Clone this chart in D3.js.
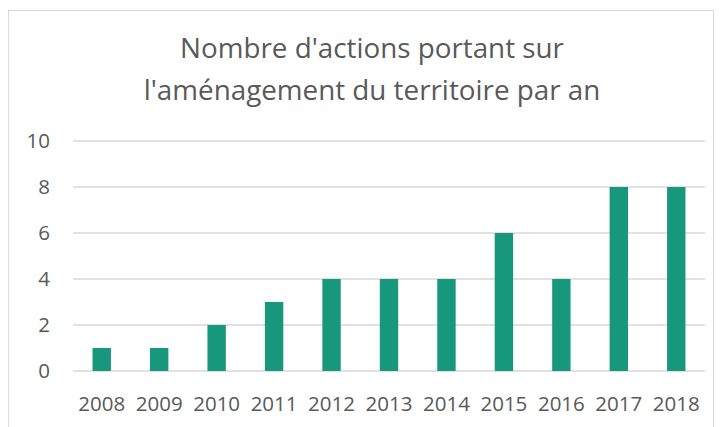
<!DOCTYPE html>
<html lang="fr">
<head>
<meta charset="UTF-8">
<title>Nombre d'actions</title>
<script src="https://d3js.org/d3.v7.min.js"></script>
<style>
  body { margin: 0; background: #fff; }
  svg text { font-family: 'Open Sans', 'Noto Sans', sans-serif; fill: #595959; }
</style>
</head>
<body>
<div id="chart"></div>
<script>
// data
const years = ["2008", "2009", "2010", "2011", "2012", "2013", "2014", "2015", "2016", "2017", "2018"];
const actions = [1, 1, 2, 3, 4, 4, 4, 6, 4, 8, 8];
const yTicks = [0, 2, 4, 6, 8, 10];
const titleLines = ["Nombre d'actions portant sur", "l'aménagement du territoire par an"];

const width = 724, height = 427;
const margin = { top: 141, right: 19, bottom: 56, left: 73 };

const svg = d3.select("#chart").append("svg")
    .attr("width", width)
    .attr("height", height);

// chart border
svg.append("rect")
    .attr("x", 8.5).attr("y", 10.5)
    .attr("width", 705).attr("height", 430)
    .attr("fill", "none")
    .attr("stroke", "#d9d9d9")
    .attr("stroke-width", 1);

const x = d3.scaleBand()
    .domain(years)
    .range([margin.left, width - margin.right])
    .paddingInner(0.68)
    .paddingOuter(0.34);

const y = d3.scaleLinear()
    .domain([0, 10])
    .range([height - margin.bottom, margin.top]);

// gridlines
svg.append("g")
    .selectAll("line")
    .data(yTicks)
    .join("line")
    .attr("x1", margin.left)
    .attr("x2", width - margin.right)
    .attr("y1", d => y(d))
    .attr("y2", d => y(d))
    .attr("stroke", "#d9d9d9")
    .attr("stroke-width", 1.3);

// y labels
svg.append("g")
    .selectAll("text")
    .data(yTicks)
    .join("text")
    .attr("x", 50)
    .attr("y", d => y(d))
    .attr("dy", "0.36em")
    .attr("text-anchor", "end")
    .attr("font-size", 20.5)
    .text(d => d);

// bars
svg.append("g")
    .selectAll("rect")
    .data(actions)
    .join("rect")
    .attr("x", (d, i) => x(years[i]))
    .attr("width", x.bandwidth())
    .attr("y", d => y(d))
    .attr("height", d => y(0) - y(d))
    .attr("fill", "#17977b");

// x labels
svg.append("g")
    .selectAll("text")
    .data(years)
    .join("text")
    .attr("x", d => x(d) + x.bandwidth() / 2)
    .attr("y", 411)
    .attr("text-anchor", "middle")
    .attr("font-size", 20.5)
    .text(d => d);

// title
svg.append("g")
    .selectAll("text")
    .data(titleLines)
    .join("text")
    .attr("x", 372)
    .attr("y", (d, i) => 58 + i * 42)
    .attr("text-anchor", "middle")
    .attr("font-size", 27.8)
    .text(d => d);
</script>
</body>
</html>
